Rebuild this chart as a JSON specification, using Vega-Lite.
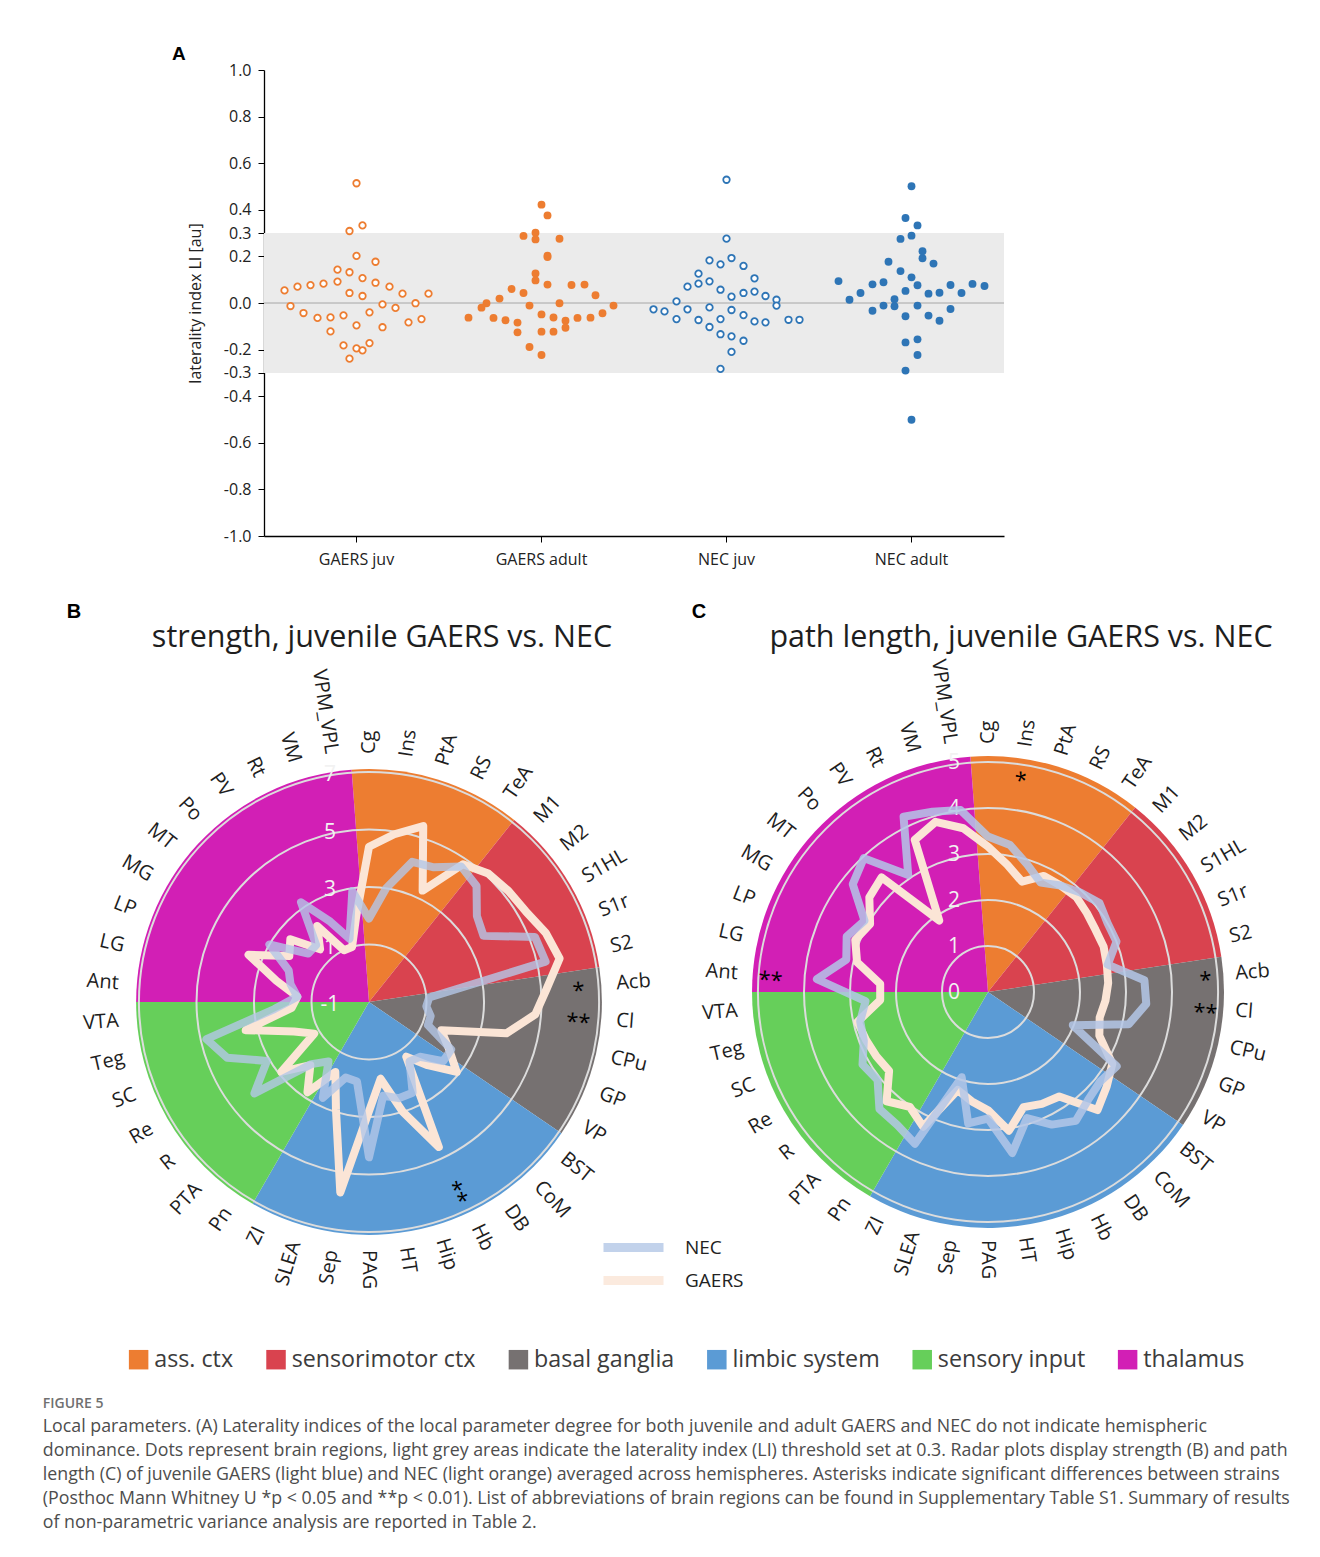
{
  "$schema": "https://vega.github.io/schema/vega-lite/v6.json",
  "background": "white",
  "padding": {"left": 42, "top": 45, "right": 5, "bottom": 5},
  "config": {
    "view": {"stroke": null},
    "font": "Open Sans",
    "axis": {"labelFont": "Open Sans", "titleFont": "Open Sans", "labelOverlap": false},
    "legend": {"labelFont": "Open Sans"}
  },
  "title": {
    "text": "FIGURE 5",
    "subtitle": [
      "Local parameters. (A) Laterality indices of the local parameter degree for both juvenile and adult GAERS and NEC do not indicate hemispheric",
      "dominance. Dots represent brain regions, light grey areas indicate the laterality index (LI) threshold set at 0.3. Radar plots display strength (B) and path",
      "length (C) of juvenile GAERS (light blue) and NEC (light orange) averaged across hemispheres. Asterisks indicate significant differences between strains",
      "(Posthoc Mann Whitney U *p < 0.05 and **p < 0.01). List of abbreviations of brain regions can be found in Supplementary Table S1. Summary of results",
      "of non-parametric variance analysis are reported in Table 2."
    ],
    "orient": "bottom",
    "anchor": "start",
    "frame": "bounds",
    "offset": 26,
    "dx": -24,
    "font": "Open Sans",
    "fontSize": 14,
    "fontWeight": 600,
    "color": "#707070",
    "subtitleFont": "Open Sans",
    "subtitleFontSize": 17.8,
    "subtitleColor": "#4d4d4d",
    "subtitleLineHeight": 24,
    "subtitlePadding": 7
  },
  "datasets": {
    "swarm": [
      {"g":"GAERS juv","s":"GAERS","a":"juv","li":0.514,"dx":0},{"g":"GAERS juv","s":"GAERS","a":"juv","li":0.309,"dx":-7},{"g":"GAERS juv","s":"GAERS","a":"juv","li":0.333,"dx":6},{"g":"GAERS juv","s":"GAERS","a":"juv","li":0.202,"dx":0},{"g":"GAERS juv","s":"GAERS","a":"juv","li":0.177,"dx":19},{"g":"GAERS juv","s":"GAERS","a":"juv","li":0.143,"dx":-19},{"g":"GAERS juv","s":"GAERS","a":"juv","li":0.132,"dx":-7},{"g":"GAERS juv","s":"GAERS","a":"juv","li":0.107,"dx":6},{"g":"GAERS juv","s":"GAERS","a":"juv","li":0.092,"dx":-19},{"g":"GAERS juv","s":"GAERS","a":"juv","li":0.087,"dx":19},{"g":"GAERS juv","s":"GAERS","a":"juv","li":0.083,"dx":-33},{"g":"GAERS juv","s":"GAERS","a":"juv","li":0.077,"dx":-46},{"g":"GAERS juv","s":"GAERS","a":"juv","li":0.070,"dx":-59},{"g":"GAERS juv","s":"GAERS","a":"juv","li":0.070,"dx":33},{"g":"GAERS juv","s":"GAERS","a":"juv","li":0.054,"dx":-72},{"g":"GAERS juv","s":"GAERS","a":"juv","li":0.043,"dx":-7},{"g":"GAERS juv","s":"GAERS","a":"juv","li":0.040,"dx":46},{"g":"GAERS juv","s":"GAERS","a":"juv","li":0.040,"dx":72},{"g":"GAERS juv","s":"GAERS","a":"juv","li":0.030,"dx":6},{"g":"GAERS juv","s":"GAERS","a":"juv","li":-0.006,"dx":26},{"g":"GAERS juv","s":"GAERS","a":"juv","li":-0.001,"dx":59},{"g":"GAERS juv","s":"GAERS","a":"juv","li":-0.013,"dx":-66},{"g":"GAERS juv","s":"GAERS","a":"juv","li":-0.021,"dx":39},{"g":"GAERS juv","s":"GAERS","a":"juv","li":-0.040,"dx":13},{"g":"GAERS juv","s":"GAERS","a":"juv","li":-0.043,"dx":-53},{"g":"GAERS juv","s":"GAERS","a":"juv","li":-0.053,"dx":-13},{"g":"GAERS juv","s":"GAERS","a":"juv","li":-0.064,"dx":-39},{"g":"GAERS juv","s":"GAERS","a":"juv","li":-0.062,"dx":-26},{"g":"GAERS juv","s":"GAERS","a":"juv","li":-0.069,"dx":65},{"g":"GAERS juv","s":"GAERS","a":"juv","li":-0.083,"dx":52},{"g":"GAERS juv","s":"GAERS","a":"juv","li":-0.096,"dx":0},{"g":"GAERS juv","s":"GAERS","a":"juv","li":-0.104,"dx":26},{"g":"GAERS juv","s":"GAERS","a":"juv","li":-0.122,"dx":-26},{"g":"GAERS juv","s":"GAERS","a":"juv","li":-0.172,"dx":13},{"g":"GAERS juv","s":"GAERS","a":"juv","li":-0.182,"dx":-13},{"g":"GAERS juv","s":"GAERS","a":"juv","li":-0.195,"dx":0},{"g":"GAERS juv","s":"GAERS","a":"juv","li":-0.203,"dx":6},{"g":"GAERS juv","s":"GAERS","a":"juv","li":-0.239,"dx":-7},
      {"g":"GAERS adult","s":"GAERS","a":"adult","li":0.422,"dx":0},{"g":"GAERS adult","s":"GAERS","a":"adult","li":0.376,"dx":6},{"g":"GAERS adult","s":"GAERS","a":"adult","li":0.288,"dx":-18},{"g":"GAERS adult","s":"GAERS","a":"adult","li":0.302,"dx":-6},{"g":"GAERS adult","s":"GAERS","a":"adult","li":0.273,"dx":-6},{"g":"GAERS adult","s":"GAERS","a":"adult","li":0.276,"dx":18},{"g":"GAERS adult","s":"GAERS","a":"adult","li":0.203,"dx":6},{"g":"GAERS adult","s":"GAERS","a":"adult","li":0.197,"dx":6},{"g":"GAERS adult","s":"GAERS","a":"adult","li":0.127,"dx":-6},{"g":"GAERS adult","s":"GAERS","a":"adult","li":0.097,"dx":-6},{"g":"GAERS adult","s":"GAERS","a":"adult","li":0.079,"dx":6},{"g":"GAERS adult","s":"GAERS","a":"adult","li":0.077,"dx":30},{"g":"GAERS adult","s":"GAERS","a":"adult","li":0.079,"dx":43},{"g":"GAERS adult","s":"GAERS","a":"adult","li":0.060,"dx":-30},{"g":"GAERS adult","s":"GAERS","a":"adult","li":0.043,"dx":-18},{"g":"GAERS adult","s":"GAERS","a":"adult","li":0.019,"dx":-42},{"g":"GAERS adult","s":"GAERS","a":"adult","li":0.033,"dx":54},{"g":"GAERS adult","s":"GAERS","a":"adult","li":-0.001,"dx":-55},{"g":"GAERS adult","s":"GAERS","a":"adult","li":-0.001,"dx":18},{"g":"GAERS adult","s":"GAERS","a":"adult","li":-0.011,"dx":-12},{"g":"GAERS adult","s":"GAERS","a":"adult","li":-0.020,"dx":-60},{"g":"GAERS adult","s":"GAERS","a":"adult","li":-0.011,"dx":72},{"g":"GAERS adult","s":"GAERS","a":"adult","li":-0.063,"dx":-73},{"g":"GAERS adult","s":"GAERS","a":"adult","li":-0.049,"dx":0},{"g":"GAERS adult","s":"GAERS","a":"adult","li":-0.062,"dx":12},{"g":"GAERS adult","s":"GAERS","a":"adult","li":-0.064,"dx":-48},{"g":"GAERS adult","s":"GAERS","a":"adult","li":-0.074,"dx":-36},{"g":"GAERS adult","s":"GAERS","a":"adult","li":-0.064,"dx":36},{"g":"GAERS adult","s":"GAERS","a":"adult","li":-0.063,"dx":49},{"g":"GAERS adult","s":"GAERS","a":"adult","li":-0.044,"dx":61},{"g":"GAERS adult","s":"GAERS","a":"adult","li":-0.076,"dx":24},{"g":"GAERS adult","s":"GAERS","a":"adult","li":-0.084,"dx":-24},{"g":"GAERS adult","s":"GAERS","a":"adult","li":-0.106,"dx":24},{"g":"GAERS adult","s":"GAERS","a":"adult","li":-0.126,"dx":-24},{"g":"GAERS adult","s":"GAERS","a":"adult","li":-0.123,"dx":0},{"g":"GAERS adult","s":"GAERS","a":"adult","li":-0.123,"dx":12},{"g":"GAERS adult","s":"GAERS","a":"adult","li":-0.189,"dx":-12},{"g":"GAERS adult","s":"GAERS","a":"adult","li":-0.223,"dx":0},
      {"g":"NEC juv","s":"NEC","a":"juv","li":0.529,"dx":0},{"g":"NEC juv","s":"NEC","a":"juv","li":0.276,"dx":0},{"g":"NEC juv","s":"NEC","a":"juv","li":0.183,"dx":-17},{"g":"NEC juv","s":"NEC","a":"juv","li":0.166,"dx":-6},{"g":"NEC juv","s":"NEC","a":"juv","li":0.193,"dx":5},{"g":"NEC juv","s":"NEC","a":"juv","li":0.159,"dx":17},{"g":"NEC juv","s":"NEC","a":"juv","li":0.126,"dx":-28},{"g":"NEC juv","s":"NEC","a":"juv","li":0.106,"dx":28},{"g":"NEC juv","s":"NEC","a":"juv","li":0.070,"dx":-39},{"g":"NEC juv","s":"NEC","a":"juv","li":0.083,"dx":-28},{"g":"NEC juv","s":"NEC","a":"juv","li":0.093,"dx":-17},{"g":"NEC juv","s":"NEC","a":"juv","li":0.057,"dx":-6},{"g":"NEC juv","s":"NEC","a":"juv","li":0.043,"dx":17},{"g":"NEC juv","s":"NEC","a":"juv","li":0.049,"dx":28},{"g":"NEC juv","s":"NEC","a":"juv","li":0.027,"dx":5},{"g":"NEC juv","s":"NEC","a":"juv","li":0.030,"dx":39},{"g":"NEC juv","s":"NEC","a":"juv","li":0.014,"dx":50},{"g":"NEC juv","s":"NEC","a":"juv","li":0.007,"dx":-50},{"g":"NEC juv","s":"NEC","a":"juv","li":-0.011,"dx":50},{"g":"NEC juv","s":"NEC","a":"juv","li":-0.027,"dx":-73},{"g":"NEC juv","s":"NEC","a":"juv","li":-0.036,"dx":-62},{"g":"NEC juv","s":"NEC","a":"juv","li":-0.027,"dx":-39},{"g":"NEC juv","s":"NEC","a":"juv","li":-0.019,"dx":-17},{"g":"NEC juv","s":"NEC","a":"juv","li":-0.030,"dx":5},{"g":"NEC juv","s":"NEC","a":"juv","li":-0.069,"dx":-50},{"g":"NEC juv","s":"NEC","a":"juv","li":-0.073,"dx":-28},{"g":"NEC juv","s":"NEC","a":"juv","li":-0.069,"dx":-6},{"g":"NEC juv","s":"NEC","a":"juv","li":-0.052,"dx":17},{"g":"NEC juv","s":"NEC","a":"juv","li":-0.079,"dx":28},{"g":"NEC juv","s":"NEC","a":"juv","li":-0.083,"dx":39},{"g":"NEC juv","s":"NEC","a":"juv","li":-0.072,"dx":62},{"g":"NEC juv","s":"NEC","a":"juv","li":-0.072,"dx":73},{"g":"NEC juv","s":"NEC","a":"juv","li":-0.103,"dx":-17},{"g":"NEC juv","s":"NEC","a":"juv","li":-0.134,"dx":-6},{"g":"NEC juv","s":"NEC","a":"juv","li":-0.143,"dx":5},{"g":"NEC juv","s":"NEC","a":"juv","li":-0.162,"dx":17},{"g":"NEC juv","s":"NEC","a":"juv","li":-0.210,"dx":5},{"g":"NEC juv","s":"NEC","a":"juv","li":-0.283,"dx":-6},
      {"g":"NEC adult","s":"NEC","a":"adult","li":0.501,"dx":0},{"g":"NEC adult","s":"NEC","a":"adult","li":0.365,"dx":-6},{"g":"NEC adult","s":"NEC","a":"adult","li":0.333,"dx":6},{"g":"NEC adult","s":"NEC","a":"adult","li":0.275,"dx":-11},{"g":"NEC adult","s":"NEC","a":"adult","li":0.289,"dx":0},{"g":"NEC adult","s":"NEC","a":"adult","li":0.222,"dx":11},{"g":"NEC adult","s":"NEC","a":"adult","li":0.192,"dx":11},{"g":"NEC adult","s":"NEC","a":"adult","li":0.177,"dx":-23},{"g":"NEC adult","s":"NEC","a":"adult","li":0.169,"dx":22},{"g":"NEC adult","s":"NEC","a":"adult","li":0.137,"dx":-11},{"g":"NEC adult","s":"NEC","a":"adult","li":0.110,"dx":0},{"g":"NEC adult","s":"NEC","a":"adult","li":0.094,"dx":-73},{"g":"NEC adult","s":"NEC","a":"adult","li":0.080,"dx":-39},{"g":"NEC adult","s":"NEC","a":"adult","li":0.089,"dx":-28},{"g":"NEC adult","s":"NEC","a":"adult","li":0.076,"dx":6},{"g":"NEC adult","s":"NEC","a":"adult","li":0.077,"dx":39},{"g":"NEC adult","s":"NEC","a":"adult","li":0.082,"dx":61},{"g":"NEC adult","s":"NEC","a":"adult","li":0.073,"dx":73},{"g":"NEC adult","s":"NEC","a":"adult","li":0.043,"dx":-51},{"g":"NEC adult","s":"NEC","a":"adult","li":0.052,"dx":-6},{"g":"NEC adult","s":"NEC","a":"adult","li":0.040,"dx":17},{"g":"NEC adult","s":"NEC","a":"adult","li":0.044,"dx":28},{"g":"NEC adult","s":"NEC","a":"adult","li":0.043,"dx":50},{"g":"NEC adult","s":"NEC","a":"adult","li":0.014,"dx":-62},{"g":"NEC adult","s":"NEC","a":"adult","li":0.016,"dx":-17},{"g":"NEC adult","s":"NEC","a":"adult","li":-0.011,"dx":-28},{"g":"NEC adult","s":"NEC","a":"adult","li":-0.014,"dx":-17},{"g":"NEC adult","s":"NEC","a":"adult","li":-0.011,"dx":6},{"g":"NEC adult","s":"NEC","a":"adult","li":-0.033,"dx":-39},{"g":"NEC adult","s":"NEC","a":"adult","li":-0.026,"dx":39},{"g":"NEC adult","s":"NEC","a":"adult","li":-0.057,"dx":-6},{"g":"NEC adult","s":"NEC","a":"adult","li":-0.054,"dx":17},{"g":"NEC adult","s":"NEC","a":"adult","li":-0.076,"dx":28},{"g":"NEC adult","s":"NEC","a":"adult","li":-0.169,"dx":-6},{"g":"NEC adult","s":"NEC","a":"adult","li":-0.156,"dx":6},{"g":"NEC adult","s":"NEC","a":"adult","li":-0.223,"dx":6},{"g":"NEC adult","s":"NEC","a":"adult","li":-0.290,"dx":-6},{"g":"NEC adult","s":"NEC","a":"adult","li":-0.501,"dx":0}
    ],
    "regions": [
      {"region":"Cg","group":"ass. ctx","bN":1.9,"bG":4.4,"cN":3.38,"cG":3.16,"bSig":"","cSig":""},
      {"region":"Ins","group":"ass. ctx","bN":3.0,"bG":4.9,"cN":3.23,"cG":2.8,"bSig":"","cSig":"*"},
      {"region":"PtA","group":"ass. ctx","bN":4.1,"bG":5.4,"cN":2.9,"cG":2.51,"bSig":"","cSig":""},
      {"region":"RS","group":"ass. ctx","bN":4.2,"bG":3.3,"cN":2.64,"cG":2.8,"bSig":"","cSig":""},
      {"region":"TeA","group":"ass. ctx","bN":4.7,"bG":4.8,"cN":2.8,"cG":2.8,"bSig":"","cSig":""},
      {"region":"M1","group":"sensorimotor ctx","bN":4.5,"bG":5.1,"cN":2.95,"cG":2.82,"bSig":"","cSig":""},
      {"region":"M2","group":"sensorimotor ctx","bN":3.8,"bG":5.2,"cN":3.1,"cG":2.75,"bSig":"","cSig":""},
      {"region":"S1HL","group":"sensorimotor ctx","bN":3.6,"bG":5.3,"cN":3.0,"cG":2.7,"bSig":"","cSig":""},
      {"region":"S1r","group":"sensorimotor ctx","bN":5.2,"bG":5.6,"cN":3.0,"cG":2.7,"bSig":"","cSig":""},
      {"region":"S2","group":"sensorimotor ctx","bN":5.3,"bG":5.8,"cN":2.67,"cG":2.65,"bSig":"","cSig":""},
      {"region":"Acb","group":"basal ganglia","bN":1.1,"bG":5.2,"cN":3.41,"cG":2.62,"bSig":"*","cSig":"*"},
      {"region":"Cl","group":"basal ganglia","bN":1.0,"bG":4.8,"cN":3.45,"cG":2.56,"bSig":"**","cSig":"**"},
      {"region":"CPu","group":"basal ganglia","bN":1.2,"bG":3.9,"cN":3.14,"cG":2.49,"bSig":"","cSig":""},
      {"region":"GP","group":"basal ganglia","bN":1.2,"bG":1.7,"cN":1.98,"cG":2.6,"bSig":"","cSig":""},
      {"region":"VP","group":"basal ganglia","bN":2.3,"bG":2.2,"cN":3.23,"cG":3.12,"bSig":"","cSig":""},
      {"region":"BST","group":"limbic system","bN":2.3,"bG":2.9,"cN":3.12,"cG":3.3,"bSig":"","cSig":""},
      {"region":"CoM","group":"limbic system","bN":1.6,"bG":2.0,"cN":3.2,"cG":3.5,"bSig":"","cSig":""},
      {"region":"DB","group":"limbic system","bN":1.5,"bG":1.3,"cN":3.39,"cG":2.75,"bSig":"","cSig":""},
      {"region":"Hb","group":"limbic system","bN":2.5,"bG":4.6,"cN":3.2,"cG":2.7,"bSig":"**","cSig":""},
      {"region":"Hip","group":"limbic system","bN":2.5,"bG":3.0,"cN":2.87,"cG":2.62,"bSig":"","cSig":""},
      {"region":"HT","group":"limbic system","bN":2.3,"bG":1.7,"cN":3.54,"cG":3.05,"bSig":"","cSig":""},
      {"region":"PAG","group":"limbic system","bN":4.4,"bG":2.8,"cN":2.75,"cG":2.57,"bSig":"","cSig":""},
      {"region":"Sep","group":"limbic system","bN":1.8,"bG":5.7,"cN":2.89,"cG":2.4,"bSig":"","cSig":""},
      {"region":"SLEA","group":"limbic system","bN":1.75,"bG":2.9,"cN":1.94,"cG":2.23,"bSig":"","cSig":""},
      {"region":"ZI","group":"limbic system","bN":2.7,"bG":1.7,"cN":3.66,"cG":3.25,"bSig":"","cSig":""},
      {"region":"Pn","group":"sensory input","bN":1.5,"bG":2.8,"cN":3.5,"cG":3.02,"bSig":"","cSig":""},
      {"region":"PTA","group":"sensory input","bN":1.95,"bG":2.0,"cN":3.47,"cG":3.24,"bSig":"","cSig":""},
      {"region":"R","group":"sensory input","bN":4.1,"bG":2.9,"cN":3.07,"cG":2.75,"bSig":"","cSig":""},
      {"region":"Re","group":"sensory input","bN":3.1,"bG":1.2,"cN":3.15,"cG":2.8,"bSig":"","cSig":""},
      {"region":"SC","group":"sensory input","bN":4.3,"bG":1.8,"cN":2.9,"cG":2.85,"bSig":"","cSig":""},
      {"region":"Teg","group":"sensory input","bN":4.8,"bG":3.4,"cN":2.85,"cG":2.91,"bSig":"","cSig":""},
      {"region":"VTA","group":"sensory input","bN":2.3,"bG":1.7,"cN":2.67,"cG":2.35,"bSig":"","cSig":""},
      {"region":"Ant","group":"thalamus","bN":1.5,"bG":1.5,"cN":3.73,"cG":2.35,"bSig":"","cSig":"**"},
      {"region":"LG","group":"thalamus","bN":1.8,"bG":2.3,"cN":3.16,"cG":2.92,"bSig":"","cSig":""},
      {"region":"LP","group":"thalamus","bN":2.0,"bG":3.5,"cN":3.3,"cG":3.1,"bSig":"","cSig":""},
      {"region":"MG","group":"thalamus","bN":3.0,"bG":2.2,"cN":3.1,"cG":2.96,"bSig":"","cSig":""},
      {"region":"MT","group":"thalamus","bN":1.7,"bG":2.5,"cN":3.76,"cG":3.3,"bSig":"","cSig":""},
      {"region":"Po","group":"thalamus","bN":1.7,"bG":1.5,"cN":3.97,"cG":3.4,"bSig":"","cSig":""},
      {"region":"PV","group":"thalamus","bN":3.2,"bG":2.2,"cN":3.08,"cG":1.88,"bSig":"","cSig":""},
      {"region":"Rt","group":"thalamus","bN":2.1,"bG":1.0,"cN":4.23,"cG":3.67,"bSig":"","cSig":""},
      {"region":"VM","group":"thalamus","bN":1.3,"bG":1.0,"cN":4.1,"cG":3.87,"bSig":"","cSig":""},
      {"region":"VPM_VPL","group":"thalamus","bN":2.9,"bG":2.0,"cN":4.0,"cG":3.6,"bSig":"","cSig":""}
    ]
  },
  "spacing": 361,
  "bounds": "flush",
  "resolve": {"scale": {"theta": "independent", "radius": "independent", "color": "independent", "fill": "shared", "stroke": "shared"}},
  "vconcat": [
    {
      "width": 740,
      "height": 466,
      "title": {"text": "A", "anchor": "start", "frame": "group", "dx": -92, "offset": -2, "font": "Liberation Sans", "fontSize": 19, "fontWeight": "bold", "color": "#000000"},
      "layer": [
        {
          "data": {"values": [{"lo": -0.3, "hi": 0.3}]},
          "mark": {"type": "rect", "color": "#ebebeb"},
          "encoding": {
            "y": {"field": "lo", "type": "quantitative", "scale": {"domain": [-1, 1], "nice": false, "zero": false},
              "axis": {"values": [1, 0.8, 0.6, 0.4, 0.3, 0.2, 0, -0.2, -0.3, -0.4, -0.6, -0.8, -1],
                "labelExpr": "replace(format(datum.value, '.1f'), '\u2212', '-')",
                "labelOverlap": false,
                "grid": false, "domainColor": "#000000", "domainWidth": 1.3, "tickColor": "#000000", "tickSize": 6,
                "labelFontSize": 16, "labelColor": "#222222", "labelPadding": 7,
                "title": "laterality index LI [au]", "titleFontSize": 16, "titleFontWeight": "normal", "titleColor": "#222222", "titlePadding": 20}},
            "y2": {"field": "hi"}
          }
        },
        {
          "data": {"values": [{"z": 0}]},
          "mark": {"type": "rule", "color": "#a6a6a6", "strokeWidth": 1},
          "encoding": {"y": {"field": "z", "type": "quantitative",
              "axis": {"values": [1, 0.8, 0.6, 0.4, 0.3, 0.2, 0, -0.2, -0.3, -0.4, -0.6, -0.8, -1],
                "labelExpr": "replace(format(datum.value, '.1f'), '\u2212', '-')",
                "labelOverlap": false,
                "grid": false, "domainColor": "#000000", "domainWidth": 1.3, "tickColor": "#000000", "tickSize": 6,
                "labelFontSize": 16, "labelColor": "#222222", "labelPadding": 7,
                "title": "laterality index LI [au]", "titleFontSize": 16, "titleFontWeight": "normal", "titleColor": "#222222", "titlePadding": 20}}}
        },
        {
          "data": {"name": "swarm"},
          "transform": [{"filter": "datum.a == 'juv'"}],
          "mark": {"type": "point", "shape": "circle", "filled": false, "fill": "white", "strokeWidth": 1.8, "size": 42, "opacity": 1},
          "encoding": {
            "x": {"field": "g", "type": "nominal", "scale": {"domain": ["GAERS juv", "GAERS adult", "NEC juv", "NEC adult"], "paddingInner": 0, "paddingOuter": 0},
              "axis": {"title": null, "labelAngle": 0, "labelFontSize": 16, "labelColor": "#222222", "domainColor": "#000000", "domainWidth": 1.3, "tickColor": "#000000", "tickSize": 6, "labelPadding": 9}},
            "xOffset": {"field": "dx", "type": "quantitative", "scale": {"domain": [-92.5, 92.5]}},
            "y": {"field": "li", "type": "quantitative",
              "axis": {"values": [1, 0.8, 0.6, 0.4, 0.3, 0.2, 0, -0.2, -0.3, -0.4, -0.6, -0.8, -1],
                "labelExpr": "replace(format(datum.value, '.1f'), '\u2212', '-')",
                "labelOverlap": false,
                "grid": false, "domainColor": "#000000", "domainWidth": 1.3, "tickColor": "#000000", "tickSize": 6,
                "labelFontSize": 16, "labelColor": "#222222", "labelPadding": 7,
                "title": "laterality index LI [au]", "titleFontSize": 16, "titleFontWeight": "normal", "titleColor": "#222222", "titlePadding": 20}},
            "color": {"field": "s", "type": "nominal", "scale": {"domain": ["GAERS", "NEC"], "range": ["#ED7D31", "#2E75B6"]}, "legend": null}
          }
        },
        {
          "data": {"name": "swarm"},
          "transform": [{"filter": "datum.a == 'adult'"}],
          "mark": {"type": "circle", "size": 62, "opacity": 1},
          "encoding": {
            "x": {"field": "g", "type": "nominal"},
            "xOffset": {"field": "dx", "type": "quantitative", "scale": {"domain": [-92.5, 92.5]}},
            "y": {"field": "li", "type": "quantitative",
              "axis": {"values": [1, 0.8, 0.6, 0.4, 0.3, 0.2, 0, -0.2, -0.3, -0.4, -0.6, -0.8, -1],
                "labelExpr": "replace(format(datum.value, '.1f'), '\u2212', '-')",
                "labelOverlap": false,
                "grid": false, "domainColor": "#000000", "domainWidth": 1.3, "tickColor": "#000000", "tickSize": 6,
                "labelFontSize": 16, "labelColor": "#222222", "labelPadding": 7,
                "title": "laterality index LI [au]", "titleFontSize": 16, "titleFontWeight": "normal", "titleColor": "#222222", "titlePadding": 20}},
            "color": {"field": "s", "type": "nominal", "legend": null}
          }
        }
      ]
    },
    {
      "hconcat": [
        {
          "width": 210,
          "height": 210,
          "title": {"text": "strength, juvenile GAERS vs. NEC", "font": "Open Sans", "fontSize": 30.5, "fontWeight": "normal", "color": "#1e1e1e", "anchor": "middle", "frame": "group", "offset": -52, "dx": 13},
          "layer": [
            {
              "data": {"name": "regions"},
              "transform": [
                {"window": [{"op": "row_number", "as": "rn"}]},
                {"aggregate": [{"op": "min", "field": "rn", "as": "lo"}, {"op": "max", "field": "rn", "as": "hi"}], "groupby": ["group"]},
                {"calculate": "datum.lo - 1.5", "as": "a0"},
                {"calculate": "datum.hi - 0.5", "as": "a1"}
              ],
              "mark": {"type": "arc"},
              "encoding": {
                "theta": {"field": "a0", "type": "quantitative", "stack": null, "scale": {"domain": [0, 42], "range": [0, 6.283185]}},
                "theta2": {"field": "a1"},
                "radius": {"datum": 7.1, "type": "quantitative", "scale": {"type": "linear", "domain": [-1, 7], "range": [0, 230], "zero": false, "nice": false}},
                "radius2": {"datum": -1},
                "fill": {"field": "group", "type": "nominal",
                  "scale": {"domain": ["ass. ctx", "sensorimotor ctx", "basal ganglia", "limbic system", "sensory input", "thalamus"], "range": ["#ED7D31", "#D9434F", "#767171", "#5B9BD5", "#66CF5A", "#D21FB5"]},
                  "legend": {"orient": "none", "legendX": -137, "legendY": 1278, "direction": "horizontal", "columns": 6, "title": null, "symbolType": "square", "symbolSize": 380, "symbolStrokeWidth": 0, "labelFontSize": 23.25, "labelLimit": 400, "labelColor": "#3c3c3c", "columnPadding": 30.4, "labelOffset": 4}}
              }
            },
            {
              "data": {"values": [{"ring": 1}, {"ring": 3}, {"ring": 5}, {"ring": 7}]},
              "mark": {"type": "arc", "filled": false, "stroke": "#dcdcdc", "strokeWidth": 2, "theta": 0, "theta2": 6.283185},
              "encoding": {
                "radius": {"field": "ring", "type": "quantitative", "scale": {"type": "linear", "domain": [-1, 7], "range": [0, 230], "zero": false, "nice": false}},
                "radius2": {"field": "ring"}
              }
            },
            {
              "data": {"values": [{"ring": -1}, {"ring": 1}, {"ring": 3}, {"ring": 5}, {"ring": 7}]},
              "transform": [{"calculate": "datum.ring + 1", "as": "ry"}, {"calculate": "toString(datum.ring)", "as": "lab"}],
              "mark": {"type": "text", "fill": "#f2f2f2", "fontSize": 21, "baseline": "middle", "align": "center", "dy": 3},
              "encoding": {
                "x": {"datum": -1.357, "type": "quantitative", "scale": {"domain": [-3.6522, 3.6522], "nice": false, "zero": false}, "axis": null},
                "y": {"field": "ry", "type": "quantitative", "scale": {"domain": [-3.6522, 3.6522], "nice": false, "zero": false}, "axis": null},
                "text": {"field": "lab", "type": "nominal"}
              }
            },
            {
              "data": {"name": "regions"},
              "transform": [
                {"window": [{"op": "row_number", "as": "rn"}]},
                {"calculate": "(datum.rn - 1) * 2 * PI / 42", "as": "th"},
                {"calculate": "(datum.bG + 1) * sin(datum.th)", "as": "lx"},
                {"calculate": "(datum.bG + 1) * cos(datum.th)", "as": "ly"}
              ],
              "mark": {"type": "line", "interpolate": "linear-closed", "strokeWidth": 8, "strokeJoin": "round"},
              "encoding": {
                "x": {"field": "lx", "type": "quantitative"},
                "y": {"field": "ly", "type": "quantitative"},
                "order": {"field": "rn", "type": "quantitative"},
                "stroke": {"datum": "GAERS", "type": "nominal", "scale": {"domain": ["NEC", "GAERS"], "range": ["#B4C7E7", "#FBE5D6"]},
                  "legend": {"orient": "none", "legendX": 355, "legendY": 1163, "title": null, "symbolType": "M-3,0L3,0", "symbolSize": 400, "symbolStrokeWidth": 9, "symbolOpacity": 1, "labelFontSize": 19, "labelColor": "#222222", "labelOffset": 37, "rowPadding": -5}}
              }
            },
            {
              "data": {"name": "regions"},
              "transform": [
                {"window": [{"op": "row_number", "as": "rn"}]},
                {"calculate": "(datum.rn - 1) * 2 * PI / 42", "as": "th"},
                {"calculate": "(datum.bN + 1) * sin(datum.th)", "as": "lx"},
                {"calculate": "(datum.bN + 1) * cos(datum.th)", "as": "ly"}
              ],
              "mark": {"type": "line", "interpolate": "linear-closed", "strokeWidth": 8, "strokeJoin": "round", "opacity": 0.8},
              "encoding": {
                "x": {"field": "lx", "type": "quantitative"},
                "y": {"field": "ly", "type": "quantitative"},
                "order": {"field": "rn", "type": "quantitative"},
                "stroke": {"datum": "NEC", "type": "nominal"}
              }
            },
            {
              "data": {"name": "regions"},
              "transform": [
                {"window": [{"op": "row_number", "as": "rn"}]},
                {"calculate": "datum.rn - 1", "as": "i"},
                {"calculate": "datum.i * 360 / 42", "as": "deg"},
                {"filter": "datum.deg <= 180"},
                {"calculate": "datum.deg - 90", "as": "rot"}
              ],
              "mark": {"type": "text", "radius": 248, "align": "left", "baseline": "middle", "fontSize": 20, "fill": "#1e1e1e"},
              "encoding": {
                "theta": {"field": "i", "type": "quantitative", "scale": {"domain": [0, 42], "range": [0, 6.283185]}},
                "text": {"field": "region", "type": "nominal"},
                "angle": {"field": "rot", "type": "quantitative", "scale": null}
              }
            },
            {
              "data": {"name": "regions"},
              "transform": [
                {"window": [{"op": "row_number", "as": "rn"}]},
                {"calculate": "datum.rn - 1", "as": "i"},
                {"calculate": "datum.i * 360 / 42", "as": "deg"},
                {"filter": "datum.deg > 180"},
                {"calculate": "datum.deg - 270", "as": "rot"}
              ],
              "mark": {"type": "text", "radius": 251, "align": "right", "baseline": "middle", "fontSize": 20, "fill": "#1e1e1e"},
              "encoding": {
                "theta": {"field": "i", "type": "quantitative", "scale": {"domain": [0, 42], "range": [0, 6.283185]}},
                "text": {"field": "region", "type": "nominal"},
                "angle": {"field": "rot", "type": "quantitative", "scale": null}
              }
            },
            {
              "data": {"name": "regions"},
              "transform": [
                {"window": [{"op": "row_number", "as": "rn"}]},
                {"calculate": "datum.rn - 1", "as": "i"},
                {"calculate": "datum.i * 360 / 42", "as": "deg"},
                {"filter": "datum.bSig != ''"},
                {"calculate": "datum.deg <= 180 ? datum.deg - 90 : datum.deg - 270", "as": "rot"}
              ],
              "mark": {"type": "text", "radius": 210, "align": "center", "baseline": "middle", "fontSize": 22, "dy": 5, "fill": "#000000"},
              "encoding": {
                "theta": {"field": "i", "type": "quantitative", "scale": {"domain": [0, 42], "range": [0, 6.283185]}},
                "text": {"field": "bSig", "type": "nominal"},
                "angle": {"field": "rot", "type": "quantitative", "scale": null}
              }
            },
            {
              "data": {"values": [{"t": "B"}]},
              "mark": {"type": "text", "font": "Liberation Sans", "fontWeight": "bold", "fontSize": 20, "fill": "#000000", "baseline": "middle"},
              "encoding": {
                "x": {"datum": -10.26, "type": "quantitative"},
                "y": {"datum": 13.57, "type": "quantitative"},
                "text": {"field": "t", "type": "nominal"}
              }
            }
          ]
        },
        {
          "width": 190,
          "height": 190,
          "title": {"text": "path length, juvenile GAERS vs. NEC", "font": "Open Sans", "fontSize": 30.5, "fontWeight": "normal", "color": "#1e1e1e", "anchor": "middle", "frame": "group", "offset": -52, "dx": 33},
          "layer": [
            {
              "data": {"name": "regions"},
              "transform": [
                {"window": [{"op": "row_number", "as": "rn"}]},
                {"aggregate": [{"op": "min", "field": "rn", "as": "lo"}, {"op": "max", "field": "rn", "as": "hi"}], "groupby": ["group"]},
                {"calculate": "datum.lo - 1.5", "as": "a0"},
                {"calculate": "datum.hi - 0.5", "as": "a1"}
              ],
              "mark": {"type": "arc"},
              "encoding": {
                "theta": {"field": "a0", "type": "quantitative", "stack": null, "scale": {"domain": [0, 42], "range": [0, 6.283185]}},
                "theta2": {"field": "a1"},
                "radius": {"datum": 5.13, "type": "quantitative", "scale": {"type": "linear", "domain": [0, 5], "range": [0, 230], "zero": false, "nice": false}},
                "radius2": {"datum": 0},
                "fill": {"field": "group", "type": "nominal"}
              }
            },
            {
              "data": {"values": [{"ring": 1}, {"ring": 2}, {"ring": 3}, {"ring": 4}, {"ring": 5}]},
              "mark": {"type": "arc", "filled": false, "stroke": "#dcdcdc", "strokeWidth": 2, "theta": 0, "theta2": 6.283185},
              "encoding": {
                "radius": {"field": "ring", "type": "quantitative", "scale": {"type": "linear", "domain": [0, 5], "range": [0, 230], "zero": false, "nice": false}},
                "radius2": {"field": "ring"}
              }
            },
            {
              "data": {"values": [{"ring": 0}, {"ring": 1}, {"ring": 2}, {"ring": 3}, {"ring": 4}, {"ring": 5}]},
              "transform": [{"calculate": "toString(datum.ring)", "as": "lab"}],
              "mark": {"type": "text", "fill": "#f2f2f2", "fontSize": 21, "baseline": "middle", "align": "center", "dy": 1},
              "encoding": {
                "x": {"datum": -0.739, "type": "quantitative", "scale": {"domain": [-2.0652, 2.0652], "nice": false, "zero": false}, "axis": null},
                "y": {"field": "ring", "type": "quantitative", "scale": {"domain": [-2.0652, 2.0652], "nice": false, "zero": false}, "axis": null},
                "text": {"field": "lab", "type": "nominal"}
              }
            },
            {
              "data": {"name": "regions"},
              "transform": [
                {"window": [{"op": "row_number", "as": "rn"}]},
                {"calculate": "(datum.rn - 1) * 2 * PI / 42", "as": "th"},
                {"calculate": "datum.cG * sin(datum.th)", "as": "lx"},
                {"calculate": "datum.cG * cos(datum.th)", "as": "ly"}
              ],
              "mark": {"type": "line", "interpolate": "linear-closed", "strokeWidth": 8, "strokeJoin": "round"},
              "encoding": {
                "x": {"field": "lx", "type": "quantitative"},
                "y": {"field": "ly", "type": "quantitative"},
                "order": {"field": "rn", "type": "quantitative"},
                "stroke": {"datum": "GAERS", "type": "nominal"}
              }
            },
            {
              "data": {"name": "regions"},
              "transform": [
                {"window": [{"op": "row_number", "as": "rn"}]},
                {"calculate": "(datum.rn - 1) * 2 * PI / 42", "as": "th"},
                {"calculate": "datum.cN * sin(datum.th)", "as": "lx"},
                {"calculate": "datum.cN * cos(datum.th)", "as": "ly"}
              ],
              "mark": {"type": "line", "interpolate": "linear-closed", "strokeWidth": 8, "strokeJoin": "round", "opacity": 0.85},
              "encoding": {
                "x": {"field": "lx", "type": "quantitative"},
                "y": {"field": "ly", "type": "quantitative"},
                "order": {"field": "rn", "type": "quantitative"},
                "stroke": {"datum": "NEC", "type": "nominal"}
              }
            },
            {
              "data": {"name": "regions"},
              "transform": [
                {"window": [{"op": "row_number", "as": "rn"}]},
                {"calculate": "datum.rn - 1", "as": "i"},
                {"calculate": "datum.i * 360 / 42", "as": "deg"},
                {"filter": "datum.deg <= 180"},
                {"calculate": "datum.deg - 90", "as": "rot"}
              ],
              "mark": {"type": "text", "radius": 248, "align": "left", "baseline": "middle", "fontSize": 20, "fill": "#1e1e1e"},
              "encoding": {
                "theta": {"field": "i", "type": "quantitative", "scale": {"domain": [0, 42], "range": [0, 6.283185]}},
                "text": {"field": "region", "type": "nominal"},
                "angle": {"field": "rot", "type": "quantitative", "scale": null}
              }
            },
            {
              "data": {"name": "regions"},
              "transform": [
                {"window": [{"op": "row_number", "as": "rn"}]},
                {"calculate": "datum.rn - 1", "as": "i"},
                {"calculate": "datum.i * 360 / 42", "as": "deg"},
                {"filter": "datum.deg > 180"},
                {"calculate": "datum.deg - 270", "as": "rot"}
              ],
              "mark": {"type": "text", "radius": 251, "align": "right", "baseline": "middle", "fontSize": 20, "fill": "#1e1e1e"},
              "encoding": {
                "theta": {"field": "i", "type": "quantitative", "scale": {"domain": [0, 42], "range": [0, 6.283185]}},
                "text": {"field": "region", "type": "nominal"},
                "angle": {"field": "rot", "type": "quantitative", "scale": null}
              }
            },
            {
              "data": {"name": "regions"},
              "transform": [
                {"window": [{"op": "row_number", "as": "rn"}]},
                {"calculate": "datum.rn - 1", "as": "i"},
                {"calculate": "datum.i * 360 / 42", "as": "deg"},
                {"filter": "datum.cSig != ''"},
                {"calculate": "datum.deg <= 180 ? datum.deg - 90 : datum.deg - 270", "as": "rot"}
              ],
              "mark": {"type": "text", "radius": 218, "align": "center", "baseline": "middle", "fontSize": 22, "dy": 5, "fill": "#000000"},
              "encoding": {
                "theta": {"field": "i", "type": "quantitative", "scale": {"domain": [0, 42], "range": [0, 6.283185]}},
                "text": {"field": "cSig", "type": "nominal"},
                "angle": {"field": "rot", "type": "quantitative", "scale": null}
              }
            },
            {
              "data": {"values": [{"t": "C"}]},
              "mark": {"type": "text", "font": "Liberation Sans", "fontWeight": "bold", "fontSize": 20, "fill": "#000000", "baseline": "middle"},
              "encoding": {
                "x": {"datum": -6.283, "type": "quantitative"},
                "y": {"datum": 8.261, "type": "quantitative"},
                "text": {"field": "t", "type": "nominal"}
              }
            }
          ]
        }
      ],
      "spacing": 419,
      "bounds": "flush",
      "resolve": {"scale": {"theta": "independent", "radius": "independent", "fill": "shared", "stroke": "shared"}}
    }
  ]
}
